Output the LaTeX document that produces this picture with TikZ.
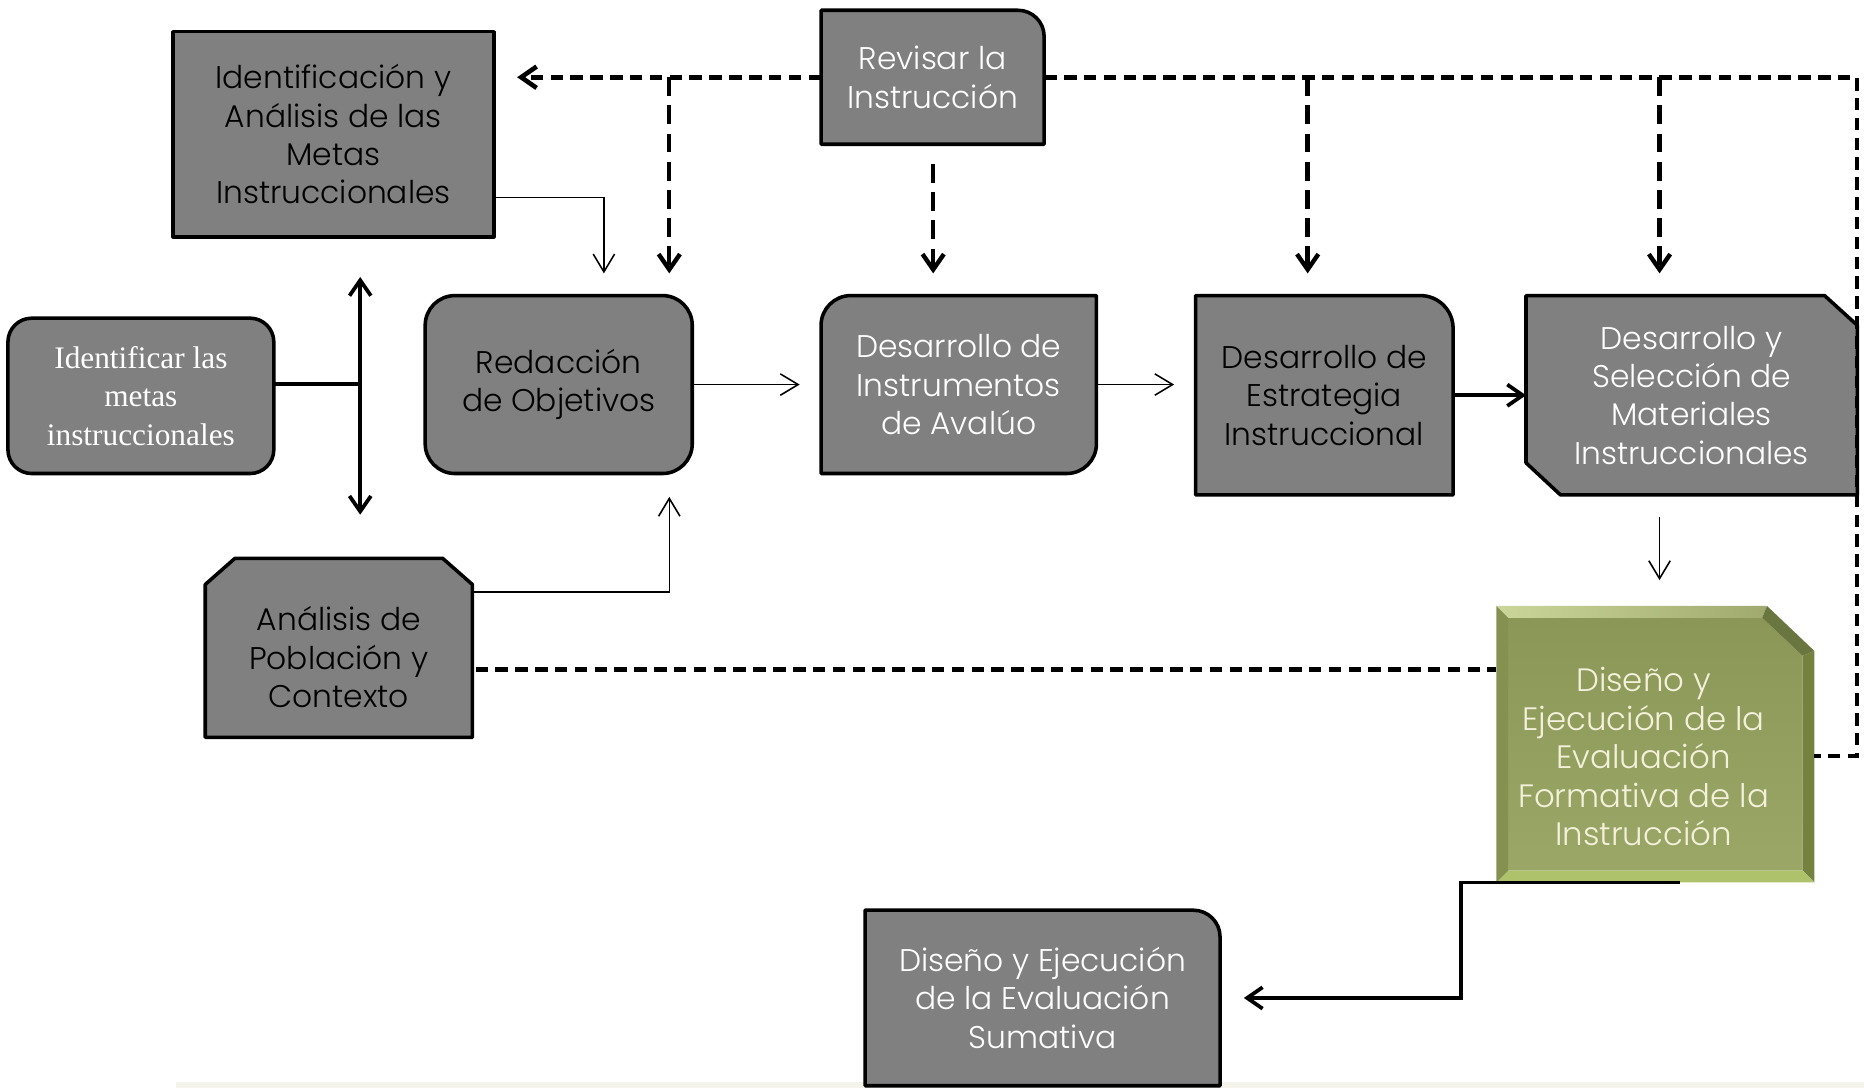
\documentclass[tikz,border=0pt]{standalone}
\usepackage{fontspec}
\setmainfont{Poppins Light}
\newfontfamily\serifbox{Liberation Serif}
\usetikzlibrary{arrows.meta,backgrounds}

\definecolor{boxgray}{HTML}{808080}
\definecolor{olive1}{HTML}{8B9756}
\definecolor{olive2}{HTML}{9BA767}
\definecolor{olivelight}{HTML}{CBD69B}
\definecolor{olivetop}{HTML}{A0AA6E}
\definecolor{olivedark}{HTML}{6A7640}
\definecolor{oliveright}{HTML}{75813F}
\definecolor{oliveleft}{HTML}{859150}
\definecolor{olivebottom}{HTML}{ADC26B}
\definecolor{cream}{HTML}{F3F1DC}
\definecolor{strip}{HTML}{F4F4EC}

\begin{document}
\begin{tikzpicture}
[
  x=0.02cm, y=0.02cm,
  box/.style = {inner sep=0pt, align=center, font=\fontsize{15}{18.4}\selectfont},
  boxline/.style = {draw=black, fill=boxgray, line width=1.7pt, line join=round},
  thinarrow/.style = {line width=0.75pt, -{Straight Barb[length=0.3cm,width=0.36cm]}},
  thickline/.style = {line width=1.8pt},
  thickarrow/.style = {line width=1.8pt, -{Straight Barb[length=0.26cm,width=0.36cm]}},
  dashh/.style = {line width=2.2pt, dash pattern=on 6pt off 3.5pt},
  dashv/.style = {line width=2.1pt, dash pattern=on 9pt off 4.5pt},
  tipd/.style = {-{Straight Barb[length=0.26cm,width=0.36cm]}},
]
\def\rr{0.5cm}

\useasboundingbox (0,0) rectangle (1568,915);

%boxes
\node[box, minimum width=5.38cm, minimum height=3.44cm] (metas) at (280.5,802)
  {Identificación y\\Análisis de las\\Metas\\Instruccionales};
\node[box, text=white, font=\serifbox\fontsize{15}{18.4}\selectfont,
  minimum width=4.46cm, minimum height=2.6cm] (identificar) at (118.5,582)
  {Identificar las\\metas\\instruccionales};
\node[box, minimum width=4.48cm, minimum height=2.98cm] (redaccion) at (470,591.5)
  {Redacción\\de Objetivos};
\node[box, text=white, minimum width=3.74cm, minimum height=2.24cm] (revisar) at (784.5,850)
  {Revisar la\\Instrucción};
\node[box, text=white, minimum width=4.62cm, minimum height=2.98cm] (instrumentos) at (806.5,591.5)
  {Desarrollo de\\Instrumentos\\de Avalúo};
\node[box, minimum width=4.32cm, minimum height=3.34cm] (estrategia) at (1114,582.5)
  {Desarrollo de\\Estrategia\\Instruccional};
\node[box, text=white, minimum width=5.56cm, minimum height=3.34cm] (materiales) at (1423,582.5)
  {Desarrollo y\\Selección de\\Materiales\\Instruccionales};
\node[box, minimum width=4.48cm, minimum height=3.0cm] (poblacion) at (285,370)
  {\rule{0pt}{0.72cm}Análisis de\\Población y\\Contexto};
\node[box, text=cream, font=\fontsize{15.5}{18.4}\selectfont,
  minimum width=5.34cm, minimum height=4.64cm] (formativa) at (1392.5,289)
  {\begin{tabular}{@{}c@{\hspace{0.4cm}}}
   \rule{0pt}{1.02cm}Diseño y\\Ejecución de la\\Evaluación\\Formativa de la\\Instrucción
   \end{tabular}};
\node[box, text=white, minimum width=5.96cm, minimum height=2.94cm] (sumativa) at (877,75.5)
  {Diseño y Ejecución\\de la Evaluación\\Sumativa};

\begin{scope}[on background layer]
\fill[strip] (148,0) rectangle (1568,5);
\filldraw[boxline] (metas.south west) rectangle (metas.north east);
\filldraw[boxline, rounded corners=0.4cm] (identificar.south west) rectangle (identificar.north east);
\filldraw[boxline, rounded corners=\rr] (redaccion.south west) rectangle (redaccion.north east);
\filldraw[boxline] (revisar.south west) -- (revisar.north west)
  -- ([xshift=-0.44cm]revisar.north east) arc[start angle=90, end angle=0, radius=0.44cm]
  -- (revisar.south east) -- cycle;
\filldraw[boxline] (instrumentos.south west) -- ([yshift=-\rr]instrumentos.north west)
  arc[start angle=180, end angle=90, radius=\rr] -- (instrumentos.north east)
  -- ([yshift=\rr]instrumentos.south east) arc[start angle=0, end angle=-90, radius=\rr]
  -- cycle;
\filldraw[boxline] (estrategia.south west) -- (estrategia.north west)
  -- ([xshift=-0.55cm]estrategia.north east) arc[start angle=90, end angle=0, radius=0.55cm]
  -- (estrategia.south east) -- cycle;
\filldraw[boxline] (materiales.north west) -- ([xshift=-0.55cm]materiales.north east)
  -- ([yshift=-0.5cm]materiales.north east) -- (materiales.south east)
  -- ([xshift=0.58cm]materiales.south west) -- ([yshift=0.54cm]materiales.south west) -- cycle;
\filldraw[boxline] ([yshift=-0.44cm]poblacion.north west) -- ([xshift=0.5cm]poblacion.north west)
  -- ([xshift=-0.5cm]poblacion.north east) -- ([yshift=-0.44cm]poblacion.north east)
  -- (poblacion.south east) -- (poblacion.south west) -- cycle;
\filldraw[boxline] (sumativa.south west) -- (sumativa.north west)
  -- ([xshift=-0.45cm]sumativa.north east) arc[start angle=90, end angle=0, radius=0.45cm]
  -- (sumativa.south east) -- cycle;

%green bevel box
\coordinate (fNW) at (formativa.north west);
\coordinate (fC1) at ([xshift=-0.8cm]formativa.north east);
\coordinate (fC2) at ([yshift=-0.76cm]formativa.north east);
\coordinate (fSE) at (formativa.south east);
\coordinate (fSW) at (formativa.south west);
\coordinate (iNW) at ([shift={(0.2cm,-0.2cm)}]fNW);
\coordinate (iC1) at ([shift={(-0.08cm,-0.2cm)}]fC1);
\coordinate (iC2) at ([shift={(-0.2cm,-0.08cm)}]fC2);
\coordinate (iSE) at ([shift={(-0.2cm,0.2cm)}]fSE);
\coordinate (iSW) at ([shift={(0.2cm,0.2cm)}]fSW);
\shade[top color=olive1, bottom color=olive2] (iNW) -- (iC1) -- (iC2) -- (iSE) -- (iSW) -- cycle;
\shade[left color=olivelight, right color=olivetop] (fNW) -- (fC1) -- (iC1) -- (iNW) -- cycle;
\fill[olivedark] (fC1) -- (fC2) -- (iC2) -- (iC1) -- cycle;
\fill[oliveright] (fC2) -- (fSE) -- (iSE) -- (iC2) -- cycle;
\fill[olivebottom] (fSE) -- (fSW) -- (iSW) -- (iSE) -- cycle;
\fill[oliveleft] (fSW) -- (fNW) -- (iNW) -- (iSW) -- cycle;
\end{scope}

%feedback lines from revisar
\coordinate (metasin) at (435,850);
\coordinate (d1) at (563,850); \coordinate (d1e) at (563,685);
\coordinate (d2) at (785,777); \coordinate (d2e) at (785,685);
\coordinate (d3) at (1100,850); \coordinate (d3e) at (1100,685);
\coordinate (d4) at (1396,850); \coordinate (d4e) at (1396,685);
\coordinate (topR) at (1562,850);
\coordinate (sideR) at (1562,279);
\coordinate (pobout) at (400,352);

\draw[dashh, tipd] (revisar.west) -- (metasin);
\draw[dashh] (revisar.east) -- (topR) -- (sideR) -- (sideR -| formativa.east);
\draw[dashv, tipd] (d1) -- (d1e);
\draw[dashv, tipd] (d2) -- (d2e);
\draw[dashv, tipd] (d3) -- (d3e);
\draw[dashv, tipd] (d4) -- (d4e);
\draw[dashh] (pobout) -- (pobout -| formativa.west);

%main flow
\coordinate (redin1) at (508,685);
\coordinate (redin2) at (563,497);
\coordinate (vert) at (303,592);
\coordinate (vtop) at (303,682);
\coordinate (vbot) at (303,482);
\coordinate (m2) at (1396,480);
\coordinate (f2) at (1396,427);
\coordinate (turn) at (1229,75.5);

\draw[thinarrow] ([yshift=-1.06cm]metas.east) -| (redin1);
\draw[thinarrow] ([yshift=0.94cm]poblacion.east) -| (redin2);
\draw[thickline] ([yshift=0.2cm]identificar.east) -- (vert);
\draw[thickline, {Straight Barb[length=0.26cm,width=0.36cm]}-{Straight Barb[length=0.26cm,width=0.36cm]}]
  (vtop) -- (vbot);
\draw[thinarrow] (redaccion.east) -- ([xshift=-0.36cm]instrumentos.west);
\draw[thinarrow] (instrumentos.east) -- ([xshift=-0.36cm]instrumentos.east -| estrategia.west);
\draw[thickarrow] (estrategia.east) -- (materiales.west);
\draw[thinarrow] (m2) -- (f2);
\draw[thickarrow] ([xshift=0.41cm]formativa.south) -| (turn) -- ([xshift=0.4cm]sumativa.east);
\end{tikzpicture}
\end{document}
